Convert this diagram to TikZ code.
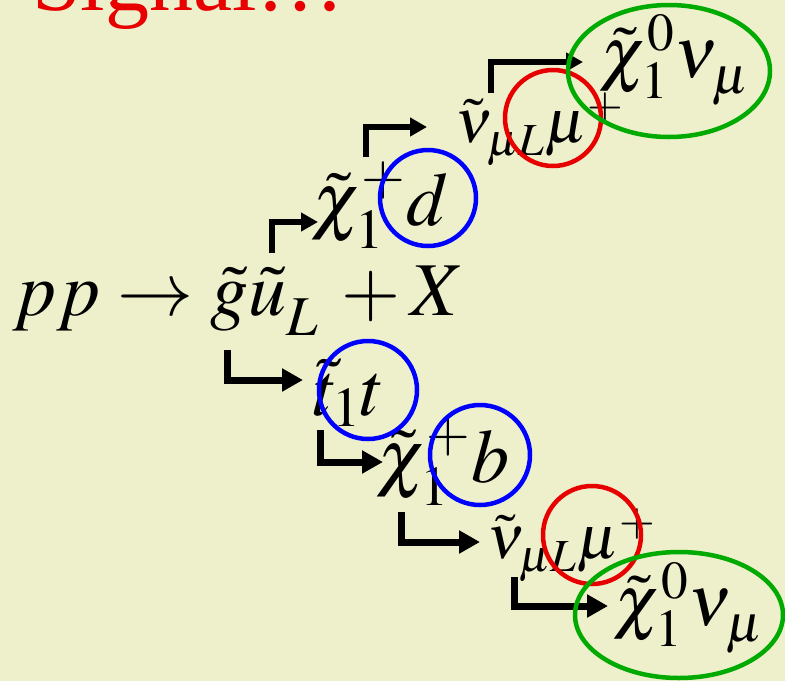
\documentclass[tikz,border=0pt]{standalone}
\usepackage{mathptmx}
\usepackage[no-math]{fontspec}
\setmainfont{Liberation Serif}
\usetikzlibrary{arrows.meta,shapes.geometric}
\definecolor{bg}{RGB}{238,240,204}
\definecolor{sigred}{RGB}{232,0,0}
\definecolor{ringblue}{RGB}{0,0,255}
\definecolor{ringred}{RGB}{230,0,0}
\definecolor{ringgreen}{RGB}{0,170,0}
\begin{document}
\begin{tikzpicture}[x=1pt,y=-1pt,
  formula/.style={anchor=base west,inner sep=0pt,outer sep=0pt,font=\fontsize{#1}{#1}\selectfont},
  decay/.style={line width=7pt,line join=miter,-{Triangle[length=21pt,width=22pt]}},
  decaysmall/.style={line width=6pt,line join=miter,-{Triangle[length=17pt,width=18pt]}},
  ring/.style={draw=#1,line width=4.5pt,circle,inner sep=0pt},
  oval/.style={draw=#1,line width=4.5pt,ellipse,inner sep=0pt},
]
\fill[bg] (0,0) rectangle (785,681);
\useasboundingbox (0,0) rectangle (785,681);

% title
\node[formula=88,text=sigred] (title) at (32,10) {Signal\ldots};

% formulas
\node[formula=76] (main) at (13,315) {$pp\rightarrow\tilde g\tilde u_{\lower9pt\hbox{$\scriptstyle L$}}\mkern3mu+X$};
\node[formula=76] (chiA) at (312,225) {$\tilde\chi_1^+d$};
\node[formula=62] (nuA) at (455,142) {$\tilde\nu_{\lower4pt\hbox{$\scriptstyle\mu L$}}\mu^+$};
\node[formula=72] (chizA) at (600,77) {$\tilde\chi_1^0\nu_{\lower6pt\hbox{$\scriptstyle\mu$}}$};
\node[formula=76] (stop) at (313,415) {$\tilde t_1t$};
\node[formula=76] (chiB) at (377,482) {$\tilde\chi_1^+b$};
\node[formula=62] (nuB) at (487,558) {$\tilde\nu_{\lower4pt\hbox{$\scriptstyle\mu L$}}\mu^+$};
\node[formula=72] (chizB) at (614,625) {$\tilde\chi_1^0\nu_{\lower6pt\hbox{$\scriptstyle\mu$}}$};

% decay arrows
\coordinate (a1s) at (272,253); \coordinate (a1t) at (318,222);
\coordinate (a2s) at (366,157); \coordinate (a2t) at (427,127);
\coordinate (a3s) at (491,93);  \coordinate (a3t) at (583,62);
\coordinate (b1s) at (227,350); \coordinate (b1t) at (303,380);
\coordinate (b2s) at (320,430); \coordinate (b2t) at (383,462);
\coordinate (b3s) at (401,512); \coordinate (b3t) at (480,542);
\coordinate (b4s) at (514,577); \coordinate (b4t) at (608,606);
\draw[decaysmall] (a1s) |- (a1t);
\draw[decaysmall] (a2s) |- (a2t);
\draw[decaysmall,line width=5.5pt] (a3s) |- (a3t);
\draw[decay] (b1s) |- (b1t);
\draw[decay] (b2s) |- (b2t);
\draw[decay] (b3s) |- (b3t);
\draw[decay] (b4s) |- (b4t);

% rings
\node[ring=ringblue,minimum size=96pt] (rd) at (428,198) {};
\node[ring=ringred,minimum size=96pt] (rmuA) at (553,118) {};
\node[oval=ringgreen,minimum width=202pt,minimum height=132pt] (rnuA) at (669,71) {};
\node[ring=ringblue,minimum size=98pt] (rt) at (368,390) {};
\node[ring=ringblue,minimum size=100pt] (rb) at (480,455) {};
\node[ring=ringred,minimum size=98pt] (rmuB) at (592,535) {};
\node[oval=ringgreen,minimum width=208pt,minimum height=126pt] (rnuB) at (679,615) {};
\end{tikzpicture}
\end{document}
